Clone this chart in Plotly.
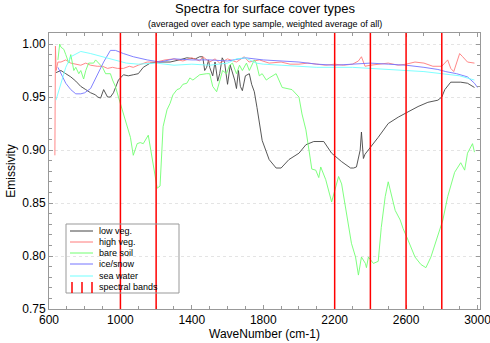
import plotly.graph_objects as go

# ---------------- data ----------------
wn_low = [639, 667, 694, 722, 750, 778, 806, 833, 861, 872, 889, 906, 928, 944, 961, 989, 1017, 1044,
          1072, 1100, 1128, 1167, 1206, 1278, 1330, 1372, 1420, 1444, 1461, 1472, 1483, 1494, 1500, 1517,
          1530, 1545, 1556, 1570, 1583, 1600, 1615, 1628, 1640, 1650, 1661, 1672, 1683, 1700, 1722, 1735,
          1750, 1765, 1778, 1794, 1833, 1872, 1900, 1944, 2000, 2039, 2083, 2139, 2183, 2239, 2289, 2306,
          2322, 2333, 2343, 2350, 2356, 2361, 2370, 2389, 2444, 2500, 2556, 2611, 2667, 2722, 2778, 2800,
          2817, 2850, 2906, 2944, 2983]
em_low = [0.973, 0.975, 0.972, 0.969, 0.965, 0.960, 0.957, 0.954, 0.952, 0.950, 0.949, 0.957, 0.950, 0.950,
          0.954, 0.966, 0.971, 0.970, 0.971, 0.972, 0.978, 0.982, 0.983, 0.983, 0.985, 0.987, 0.986, 0.988,
          0.988, 0.975, 0.978, 0.985, 0.978, 0.970, 0.983, 0.965, 0.972, 0.987, 0.983, 0.962, 0.980, 0.973,
          0.966, 0.958, 0.975, 0.960, 0.956, 0.970, 0.972, 0.962, 0.955, 0.940, 0.925, 0.909, 0.891, 0.883,
          0.883, 0.891, 0.897, 0.905, 0.908, 0.908, 0.897, 0.889, 0.883, 0.883, 0.884, 0.893, 0.900, 0.917,
          0.895, 0.892, 0.896, 0.900, 0.912, 0.925, 0.931, 0.936, 0.941, 0.945, 0.947, 0.950, 0.957, 0.964,
          0.964, 0.963, 0.959]

wn_high = [633, 636, 640, 650, 667, 694, 722, 750, 778, 806, 833, 870, 900, 928, 956, 983, 1017, 1050,
           1072, 1100, 1150, 1200, 1250, 1300, 1350, 1400, 1444, 1461, 1500, 1530, 1556, 1600, 1650, 1694,
           1720, 1778, 1833, 1900, 1950, 2000, 2050, 2100, 2150, 2200, 2250, 2300, 2333, 2350, 2370, 2400,
           2444, 2500, 2556, 2600, 2650, 2700, 2750, 2800, 2833, 2850, 2867, 2900, 2917, 2944, 2983]
em_high = [0.895, 0.998, 0.975, 0.983, 0.983, 0.985, 0.982, 0.981, 0.980, 0.982, 0.980, 0.979, 0.979,
           0.977, 0.978, 0.977, 0.977, 0.979, 0.978, 0.980, 0.983, 0.983, 0.985, 0.986, 0.984, 0.987, 0.984,
           0.988, 0.983, 0.986, 0.982, 0.986, 0.983, 0.988, 0.983, 0.985, 0.982, 0.983, 0.981, 0.981, 0.982,
           0.981, 0.980, 0.981, 0.980, 0.981, 0.984, 0.988, 0.979, 0.980, 0.981, 0.982, 0.980, 0.981, 0.983,
           0.982, 0.979, 0.979, 0.985, 0.977, 0.974, 0.991, 0.988, 0.983, 0.982]

wn_soil = [650, 660, 667, 683, 694, 711, 722, 739, 750, 767, 778, 794, 806, 822, 850, 861, 889, 900, 917,
           944, 956, 972, 989, 1011, 1039, 1056, 1072, 1094, 1111, 1128, 1156, 1167, 1178, 1194, 1206, 1222,
           1239, 1261, 1278, 1294, 1317, 1333, 1350, 1372, 1389, 1406, 1444, 1483, 1500, 1517, 1539, 1556,
           1572, 1594, 1611, 1628, 1650, 1667, 1683, 1706, 1722, 1750, 1761, 1778, 1794, 1817, 1833, 1872,
           1906, 1961, 2000, 2017, 2039, 2056, 2072, 2094, 2111, 2122, 2150, 2183, 2206, 2222, 2239, 2261,
           2278, 2294, 2317, 2333, 2350, 2372, 2378, 2389, 2417, 2444, 2461, 2483, 2500, 2517, 2539, 2567,
           2583, 2611, 2650, 2683, 2711, 2739, 2761, 2778, 2806, 2833, 2872, 2906, 2928, 2944, 2972, 2983]
em_soil = [0.985, 1.000, 0.997, 0.995, 0.990, 0.982, 0.990, 0.975, 0.978, 0.972, 0.975, 0.967, 0.975,
           0.982, 0.982, 0.985, 0.980, 0.978, 0.972, 0.972, 0.966, 0.960, 0.950, 0.938, 0.922, 0.912, 0.895,
           0.906, 0.907, 0.906, 0.914, 0.903, 0.891, 0.875, 0.864, 0.866, 0.922, 0.938, 0.944, 0.952, 0.957,
           0.958, 0.962, 0.963, 0.968, 0.966, 0.971, 0.972, 0.972, 0.960, 0.955, 0.965, 0.975, 0.972, 0.980,
           0.982, 0.972, 0.980, 0.975, 0.982, 0.975, 0.985, 0.982, 0.970, 0.972, 0.966, 0.968, 0.972, 0.959,
           0.957, 0.950, 0.934, 0.919, 0.900, 0.882, 0.881, 0.874, 0.884, 0.872, 0.851, 0.865, 0.875, 0.868,
           0.845, 0.831, 0.812, 0.799, 0.782, 0.799, 0.793, 0.789, 0.799, 0.793, 0.795, 0.827, 0.856, 0.870,
           0.859, 0.843, 0.834, 0.826, 0.815, 0.799, 0.792, 0.789, 0.799, 0.810, 0.820, 0.834, 0.856, 0.879,
           0.888, 0.881, 0.897, 0.906, 0.898]

wn_ice = [650, 667, 694, 722, 750, 778, 800, 833, 872, 906, 944, 972, 1017, 1072, 1150, 1222, 1300, 1400,
          1500, 1600, 1700, 1800, 2000, 2100, 2200, 2300, 2400, 2500, 2600, 2700, 2778, 2822, 2883, 2944,
          2983, 3000]
em_ice = [0.978, 0.972, 0.963, 0.957, 0.953, 0.953, 0.954, 0.958, 0.972, 0.983, 0.994, 0.994, 0.991, 0.988,
          0.985, 0.983, 0.986, 0.985, 0.985, 0.984, 0.987, 0.985, 0.983, 0.981, 0.980, 0.981, 0.982, 0.981,
          0.980, 0.978, 0.976, 0.974, 0.972, 0.969, 0.963, 0.959]

wn_sea = [639, 667, 694, 722, 778, 833, 900, 978, 1033, 1100, 1200, 1300, 1400, 1500, 1600, 1650, 1700,
          1760, 1800, 1900, 2000, 2100, 2200, 2300, 2400, 2500, 2600, 2700, 2800, 2900, 2983]
em_sea = [0.947, 0.963, 0.978, 0.988, 0.993, 0.991, 0.988, 0.985, 0.982, 0.981, 0.982, 0.980, 0.981, 0.980,
          0.982, 0.986, 0.987, 0.982, 0.981, 0.980, 0.979, 0.978, 0.978, 0.978, 0.977, 0.976, 0.975, 0.974,
          0.972, 0.970, 0.966]

band_edges = [1000, 1200, 2200, 2400, 2600, 2800]

series_names = ["low veg.", "high veg.", "bare soil", "ice/snow", "sea water"]
series_colors = ["#444444", "#ff7a7a", "#70ff70", "#7474ff", "#70ffff"]
series_x = [wn_low, wn_high, wn_soil, wn_ice, wn_sea]
series_y = [em_low, em_high, em_soil, em_ice, em_sea]

x_ticks = [600, 1000, 1400, 1800, 2200, 2600, 3000]
y_ticks = [0.75, 0.80, 0.85, 0.90, 0.95, 1.00]

# ---------------- figure ----------------
W, H = 490, 343
ML, MR, MT, MB = 49, 10, 33, 34
FONT = "Liberation Sans, Arial, Helvetica, sans-serif"

fig = go.Figure()
for nm, col, xs, ys in zip(series_names, series_colors, series_x, series_y):
    fig.add_trace(go.Scatter(x=xs, y=ys, mode="lines", name=nm,
                             line=dict(color=col, width=0.9), showlegend=False))

shapes = []
for w in band_edges:
    shapes.append(dict(type="line", xref="x", yref="paper", x0=w, x1=w, y0=0, y1=1,
                       line=dict(color="#ff0000", width=1.5)))

# legend drawn in pixel space converted to paper coords
pw, ph = W - ML - MR, H - MT - MB
def px(xp):
    return (xp - ML) / pw
def py(yp):
    return (H - MB - yp) / ph

shapes.append(dict(type="rect", xref="paper", yref="paper", x0=px(66), x1=px(179), y0=py(293), y1=py(224),
                   line=dict(color="#999999", width=1), fillcolor="rgba(255,255,255,0)"))
annotations = []
legend_names = series_names + ["spectral bands"]
row_y = [231, 242, 253, 264, 276, 287]
for i, nm in enumerate(legend_names):
    yc = row_y[i]
    if i < len(series_names):
        shapes.append(dict(type="line", xref="paper", yref="paper", x0=px(70), x1=px(93), y0=py(yc), y1=py(yc),
                           line=dict(color=series_colors[i], width=1)))
    else:
        for xx in (72, 82, 92):
            shapes.append(dict(type="line", xref="paper", yref="paper", x0=px(xx), x1=px(xx),
                               y0=py(yc + 6), y1=py(yc - 5), line=dict(color="#ff0000", width=1.5)))
    annotations.append(dict(xref="paper", yref="paper", x=px(97), y=py(yc), text=nm, showarrow=False,
                            xanchor="left", yanchor="middle", font=dict(size=9, color="#000000", family=FONT)))

annotations.append(dict(xref="paper", yref="paper", x=0.5, y=py(8), text="Spectra for surface cover types",
                        showarrow=False, xanchor="center", yanchor="middle",
                        font=dict(size=13, color="#000000", family=FONT)))
annotations.append(dict(xref="paper", yref="paper", x=0.5, y=py(24),
                        text="(averaged over each type sample, weighted average of all)",
                        showarrow=False, xanchor="center", yanchor="middle",
                        font=dict(size=9, color="#000000", family=FONT)))

axis_common = dict(showline=True, linecolor="#999999", linewidth=1, mirror="allticks",
                   ticks="inside", ticklen=4, tickcolor="#999999", zeroline=False, automargin=False,
                   tickfont=dict(size=12, color="#000000", family=FONT))

fig.update_layout(
    width=W, height=H,
    margin=dict(l=ML, r=MR, t=MT, b=MB, autoexpand=False),
    paper_bgcolor="white", plot_bgcolor="white",
    showlegend=False,
    shapes=shapes, annotations=annotations,
    xaxis=dict(range=[600, 3014], tickvals=x_ticks, ticktext=[str(v) for v in x_ticks],
               showgrid=False, ticklabeloverflow="allow",
               minor=dict(dtick=100, tick0=600, ticks="inside", ticklen=3, tickcolor="#999999", showgrid=False),
               title=dict(text="WaveNumber (cm-1)", font=dict(size=12, color="#000000", family=FONT), standoff=2),
               **axis_common),
    yaxis=dict(range=[0.75, 1.0104], tickvals=y_ticks, ticktext=["%.2f" % v for v in y_ticks],
               showgrid=True, gridcolor="#e4e4e4", griddash="dot", gridwidth=1,
               minor=dict(dtick=0.01, tick0=0.75, ticks="inside", ticklen=3, tickcolor="#999999", showgrid=False),
               title=dict(text="Emissivity", font=dict(size=12, color="#000000", family=FONT), standoff=4),
               **axis_common),
)

fig.write_html("out.html")
